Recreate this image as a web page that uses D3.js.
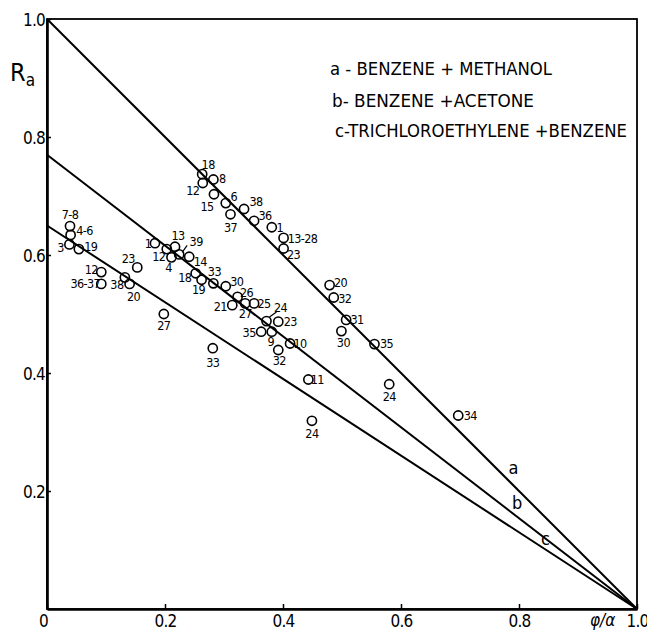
<!DOCTYPE html>
<html>
<head>
<meta charset="utf-8">
<script src="https://cdn.jsdelivr.net/npm/d3@7"></script>
<style>
  body { margin: 0; background: #fff; }
  text { font-family: "DejaVu Sans Condensed", "Liberation Sans Narrow", sans-serif; fill: #000; }
</style>
</head>
<body>
<svg id="chart" width="647" height="635"></svg>
<script>
// a - benzene + methanol
var aLabels = ['18', '12', '8', '15', '6', '37', '38', '36', '1', '13-28', '23', '20', '32', '31', '30', '35', '24', '34'];
var aPhi = [0.263, 0.264, 0.282, 0.283, 0.303, 0.311, 0.334, 0.351, 0.381, 0.401, 0.401, 0.479, 0.486, 0.507, 0.499, 0.555, 0.580, 0.697];
var aRa = [0.737, 0.722, 0.728, 0.703, 0.688, 0.669, 0.678, 0.658, 0.647, 0.629, 0.611, 0.549, 0.528, 0.490, 0.471, 0.449, 0.381, 0.328];

// b - benzene + acetone
var bLabels = ['1', '12', '13', '4', '39', '14', '18', '19', '33', '30', '26', '21', '27', '25', '24', '23', '35', '9', '10', '32', '11'];
var bPhi = [0.183, 0.203, 0.217, 0.211, 0.224, 0.241, 0.252, 0.262, 0.282, 0.303, 0.323, 0.314, 0.336, 0.351, 0.372, 0.392, 0.363, 0.381, 0.412, 0.392, 0.443];
var bRa = [0.620, 0.610, 0.614, 0.596, 0.601, 0.597, 0.569, 0.558, 0.552, 0.547, 0.529, 0.515, 0.518, 0.518, 0.488, 0.487, 0.470, 0.470, 0.450, 0.439, 0.389];

// c - trichloroethylene + benzene
var cLabels = ['7-8', '4-6', '3', '19', '12', '36-37', '38', '20', '23', '27', '33', '24'];
var cPhi = [0.039, 0.040, 0.038, 0.054, 0.092, 0.092, 0.132, 0.140, 0.153, 0.198, 0.281, 0.449];
var cRa = [0.649, 0.634, 0.618, 0.610, 0.571, 0.551, 0.562, 0.551, 0.579, 0.500, 0.442, 0.319];

var lineNames = ['a', 'b', 'c'];
var lineIntercepts = [1.0, 0.77, 0.65];
var lineNameRa = [0.24, 0.18, 0.12];
var legendTexts = ['a - BENZENE + METHANOL', 'b- BENZENE +ACETONE', 'c-TRICHLOROETHYLENE +BENZENE'];
var xTicks = [0, 0.2, 0.4, 0.6, 0.8, 1.0];
var yTicks = [0.2, 0.4, 0.6, 0.8, 1.0];

// where each point number sits, relative to its circle (px)
var labelOffset = {
  a18: [6, -10], a12: [-10, 8], a8: [9, -1], a15: [-7, 12], a6: [8, -6], a37: [0, 13],
  a38: [12, -7], a36: [11, -5], a1: [8, 0], 'a13-28': [19, 1], a23: [10, 6], a20: [11, -2],
  a32: [11, 1], a31: [11, 0], a30: [2, 12], a35: [12, 0], a24: [0, 12], a34: [12, 0],
  b1: [-7, 0], b12: [-8, 8], b13: [3, -11], b4: [-3, 10], b39: [17, -13], b14: [11, 5],
  b18: [-11, 4], b19: [-3, 10], b33: [1, -12], b30: [11, -5], b26: [9, -4], b21: [-12, 1],
  b27: [0, 10], b25: [10, 0], b24: [14, -13], b23: [12, 0], b35: [-12, 1], b9: [-1, 10],
  b10: [10, 0], b32: [1, 11], b11: [9, 0],
  'c7-8': [0, -11], 'c4-6': [14, -4], c3: [-9, 3], c19: [12, -2], c12: [-10, -2],
  'c36-37': [-16, 0], c38: [-8, 7], c20: [4, 13], c23: [-9, -9], c27: [0, 12], c33: [0, 14], c24: [0, 13]
};
var leaders = { b39: [3, -2, 8, -9], b24: [3, -4, 10, -9] };

var svg = d3.select('#chart');

var x = d3.scaleLinear().domain([0, 1]).range([47, 637]);
var y = d3.scaleLinear().domain([0, 1]).range([609, 19]);

// frame
svg.append('rect')
  .attr('x', x(0)).attr('y', y(1))
  .attr('width', x(1) - x(0)).attr('height', y(0) - y(1))
  .attr('fill', 'none').attr('stroke', '#000').attr('stroke-width', 1.8);

var xAxis = d3.axisBottom(x)
  .tickValues(xTicks)
  .tickSizeInner(-5).tickSizeOuter(0).tickPadding(6)
  .tickFormat(function(d) { return d === 0 ? '0' : d3.format('.1f')(d); });

var yAxis = d3.axisLeft(y)
  .tickValues(yTicks)
  .tickSizeInner(-4).tickSizeOuter(0).tickPadding(2)
  .tickFormat(d3.format('.1f'));

var gx = svg.append('g')
  .attr('transform', 'translate(0,' + y(0) + ')')
  .call(xAxis);
var gy = svg.append('g')
  .attr('transform', 'translate(' + x(0) + ',0)')
  .call(yAxis);

[gx, gy].forEach(function(g) {
  g.select('.domain').attr('stroke', '#000').attr('stroke-width', 2.6);
  g.selectAll('.tick line').attr('stroke', '#000').attr('stroke-width', 1.5);
  g.selectAll('.tick text')
    .attr('fill', '#000')
    .style('font-family', '"DejaVu Sans Condensed", sans-serif')
    .style('font-size', '17px')
    .attr('letter-spacing', '-0.8');
});
gx.selectAll('.tick text').filter(function(d) { return d === 0; }).attr('x', -4);
gy.selectAll('.tick text').attr('dy', '0.36em');

// axis titles
var ra = svg.append('text').attr('x', 10).attr('y', 81).style('font-size', '25px');
ra.append('tspan').text('R');
ra.append('tspan').attr('dy', 5).style('font-size', '17px').text('a');

svg.append('text')
  .attr('x', 590).attr('y', 626)
  .style('font-size', '17px')
  .attr('font-style', 'italic')
  .text('φ/α');

// regression lines, all meet at (1, 0)
svg.selectAll('.fit')
  .data(lineIntercepts)
  .enter().append('line')
  .attr('class', 'fit')
  .attr('x1', x(0)).attr('y1', function(d) { return y(d); })
  .attr('x2', x(1)).attr('y2', y(0))
  .attr('stroke', '#000').attr('stroke-width', 2);

svg.selectAll('.fitName')
  .data(lineNames)
  .enter().append('text')
  .attr('class', 'fitName')
  .attr('x', function(d, i) { return x(1 - lineNameRa[i] / lineIntercepts[i]) + 13; })
  .attr('y', function(d, i) { return y(lineNameRa[i]); })
  .attr('dy', '0.35em')
  .style('font-size', '18px')
  .text(function(d) { return d; });

// legend
svg.selectAll('.legend')
  .data(legendTexts)
  .enter().append('text')
  .attr('class', 'legend')
  .attr('x', function(d, i) { return [330, 332, 335][i]; })
  .attr('y', function(d, i) { return [75, 107, 137][i]; })
  .attr('textLength', function(d, i) { return [222, 202, 292][i]; })
  .attr('lengthAdjust', 'spacingAndGlyphs')
  .style('font-size', '18px')
  .text(function(d) { return d; });

// points
var pts = [];
[['a', aLabels, aPhi, aRa], ['b', bLabels, bPhi, bRa], ['c', cLabels, cPhi, cRa]].forEach(function(s) {
  s[1].forEach(function(lab, i) {
    pts.push({ key: s[0] + lab, label: lab, phi: s[2][i], ra: s[3][i] });
  });
});

var pg = svg.selectAll('.pt')
  .data(pts)
  .enter().append('g')
  .attr('class', 'pt')
  .attr('transform', function(d) { return 'translate(' + x(d.phi) + ',' + y(d.ra) + ')'; });

pg.append('circle')
  .attr('r', 4.6)
  .attr('fill', 'none')
  .attr('stroke', '#000')
  .attr('stroke-width', 1.6);

pg.append('text')
  .attr('x', function(d) { return (labelOffset[d.key] || [10, 0])[0]; })
  .attr('y', function(d) { return (labelOffset[d.key] || [10, 0])[1]; })
  .attr('dy', '0.35em')
  .attr('text-anchor', 'middle')
  .attr('letter-spacing', '-0.6')
  .style('font-size', '12.5px')
  .text(function(d) { return d.label; });

pg.filter(function(d) { return leaders[d.key]; })
  .append('line')
  .attr('x1', function(d) { return leaders[d.key][0]; })
  .attr('y1', function(d) { return leaders[d.key][1]; })
  .attr('x2', function(d) { return leaders[d.key][2]; })
  .attr('y2', function(d) { return leaders[d.key][3]; })
  .attr('stroke', '#000').attr('stroke-width', 1.2);
</script>
</body>
</html>
